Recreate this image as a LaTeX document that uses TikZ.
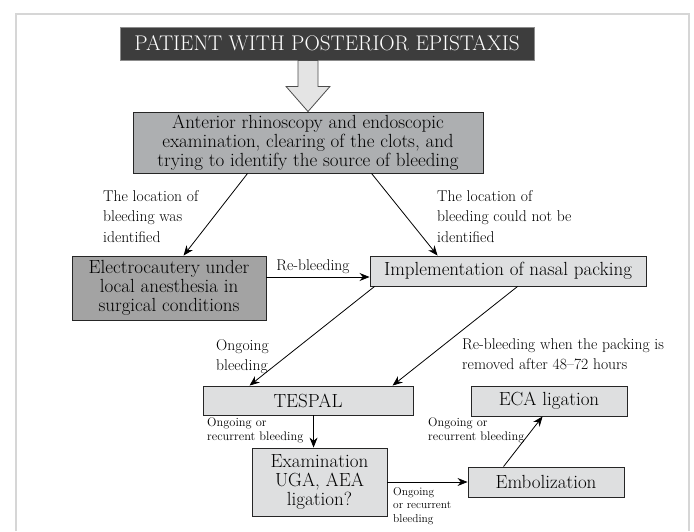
\documentclass[tikz,border=0pt]{standalone}
\usetikzlibrary{arrows.meta}
\definecolor{framegray}{HTML}{D6D6D6}
\definecolor{titlefill}{HTML}{3D3D3D}
\definecolor{boxgray}{HTML}{ADAFB1}
\definecolor{cautergray}{HTML}{A3A3A3}
\definecolor{lightbox}{HTML}{DEDFE0}
\definecolor{arrowfill}{HTML}{E4E4E4}
\newcommand{\titlefont}{\fontsize{21.2}{24}\selectfont}
\newcommand{\boxfont}{\fontsize{19}{18.8}\selectfont}
\newcommand{\notefont}{\fontsize{15.6}{20.5}\selectfont}
\newcommand{\smallnotefont}{\fontsize{12.4}{14}\selectfont}
\newcommand{\tinynotefont}{\fontsize{11.4}{13.5}\selectfont}
\begin{document}
\begin{tikzpicture}[x=1pt,y=-1pt]
  \tikzstyle{every node}=[inner sep=0pt,align=center]
  \tikzstyle{box}=[draw=black!85,line width=0.9pt,fill=lightbox,font=\boxfont]
  \tikzstyle{note}=[align=left,font=\notefont]
  \tikzstyle{flow}=[draw=black,line width=0.8pt,-{Stealth[length=10pt,width=8pt]}]
  \useasboundingbox (0,0) rectangle (694,531);
  \draw [framegray,line width=2pt] (16,531) -- (16,14) -- (689,14) -- (689,531);
  \node [draw=black!45,line width=0.8pt,fill=titlefill,text=white,font=\titlefont,
         minimum width=414pt,minimum height=33pt] (title) at (327,43.5)
        {PATIENT WITH POSTERIOR EPISTAXIS};
  \node [box,fill=boxgray,minimum width=350pt,minimum height=61pt] (inspect) at (308,142.5)
        {Anterior rhinoscopy and endoscopic\\examination, clearing of the clots, and\\trying to identify the source of bleeding};
  \node [box,fill=cautergray,minimum width=194pt,minimum height=64pt] (cautery) at (169,288)
        {Electrocautery under\\local anesthesia in\\surgical conditions};
  \node [box,minimum width=276pt,minimum height=30pt] (packing) at (508,271)
        {Implementation of nasal packing};
  \node [box,minimum width=210pt,minimum height=29pt] (tespal) at (308,400.5) {TESPAL};
  \node [box,minimum width=135pt,minimum height=68pt] (uga) at (319.5,482)
        {Examination\\UGA, AEA\\ligation?};
  \node [box,minimum width=156pt,minimum height=30pt] (embol) at (546,482) {Embolization};
  \node [box,minimum width=156pt,minimum height=30pt] (eca) at (549,401) {ECA ligation};
  \coordinate (shaft) at (title.south -| inspect.north);
  \draw [draw=black!70,line width=0.8pt,fill=arrowfill]
    ([xshift=-10pt]shaft) -- ([xshift=-10pt,yshift=-26pt]shaft) -- ([xshift=-22pt,yshift=-26pt]shaft)
    -- (inspect.north) -- ([xshift=22pt,yshift=-26pt]shaft) -- ([xshift=10pt,yshift=-26pt]shaft)
    -- ([xshift=10pt]shaft) -- cycle;
  \node [note,anchor=north west] (found) at (103,190) {The location of\\bleeding was\\identified};
  \node [note,anchor=north west] (notfound) at (437,190) {The location of\\bleeding could not be\\identified};
  \node [note,anchor=south] (rebleed) at (313,274) {Re-bleeding};
  \node [note,anchor=north west] (ongoing) at (216,339) {Ongoing\\bleeding};
  \node [note,anchor=north west] (removed) at (462,338) {Re-bleeding when the packing is\\removed after 48--72 hours};
  \node [align=left,font=\smallnotefont,anchor=north west] (recurA) at (207,418) {Ongoing or\\recurrent bleeding};
  \node [align=left,font=\smallnotefont,anchor=north west] (recurB) at (428,418) {Ongoing or\\recurrent bleeding};
  \node [align=left,font=\tinynotefont,anchor=north west] (recurC) at (393,487) {Ongoing\\or recurrent\\bleeding};
  \draw [flow] ([xshift=115pt]inspect.south west) -- ([xshift=112pt]cautery.north west);
  \draw [flow] ([xshift=239pt]inspect.south west) -- ([xshift=68pt]packing.north west);
  \coordinate (rb) at ([yshift=-6pt]packing.west);
  \draw [flow] (cautery.east |- rb) -- (rb);
  \draw [flow] ([xshift=5pt]packing.south west) -- ([xshift=47pt]tespal.north west);
  \draw [flow] ([xshift=148pt]packing.south west) -- ([xshift=190pt]tespal.north west);
  \coordinate (td) at ([xshift=111pt]tespal.south west);
  \draw [flow] (td) -- (uga.north -| td);
  \draw [flow] (uga.east) -- (embol.west);
  \draw [flow] ([xshift=36pt]embol.north west) -- ([xshift=72pt]eca.south west);
\end{tikzpicture}
\end{document}
